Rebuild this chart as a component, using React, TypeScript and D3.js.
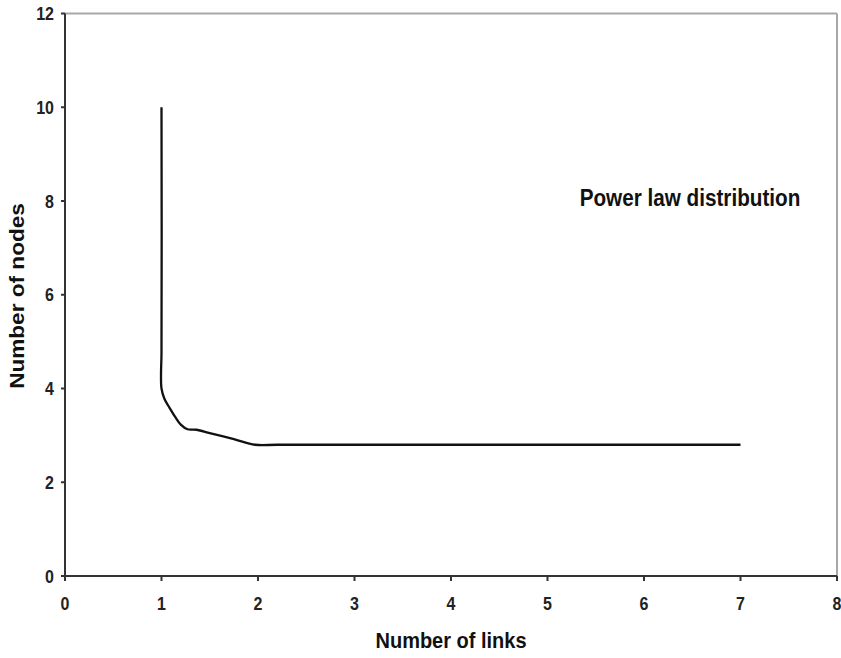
import React from "react";
import * as d3 from "d3";

const xTicks = [0, 1, 2, 3, 4, 5, 6, 7, 8];
const yTicks = [0, 2, 4, 6, 8, 10, 12];
const linksValues = [1.0, 1.0, 0.995, 1.0, 1.03, 1.08, 1.14, 1.2, 1.27, 1.36, 1.5, 1.75, 1.97, 2.2, 3, 4, 5, 6, 7];
const nodesValues = [10, 4.75, 4.3, 4.0, 3.78, 3.6, 3.4, 3.23, 3.13, 3.12, 3.05, 2.92, 2.8, 2.8, 2.8, 2.8, 2.8, 2.8, 2.8];
const xTitle = "Number of links";
const yTitle = "Number of nodes";
const annotation = "Power law distribution";

const W = 841;
const H = 658;
const M = { left: 65, right: 837, top: 13.5, bottom: 576 };
const FONT = "'Liberation Sans', Arial, sans-serif";
const SY = 1.13;

export default function App() {
  const x = d3.scaleLinear().domain([0, 8]).range([M.left, M.right]);
  const y = d3.scaleLinear().domain([0, 12]).range([M.bottom, M.top]);
  const pts: [number, number][] = linksValues.map((v, i) => [v, nodesValues[i]]);
  const line = d3
    .line<[number, number]>()
    .x((d) => x(d[0]))
    .y((d) => y(d[1]))
    .curve(d3.curveCatmullRom.alpha(0.5));

  return (
    <svg
      width={W}
      height={H}
      style={{ position: "absolute", left: 0, top: 0, background: "#fff" }}
    >
      <line x1={M.left} x2={M.right} y1={M.top} y2={M.top} stroke="#a8a8a8" strokeWidth={2} />
      <line x1={M.right} x2={M.right} y1={M.top} y2={M.bottom} stroke="#a8a8a8" strokeWidth={2} />
      <line x1={M.left} x2={M.left} y1={M.top} y2={M.bottom} stroke="#333" strokeWidth={2} />
      <line x1={M.left} x2={M.right} y1={M.bottom} y2={M.bottom} stroke="#333" strokeWidth={2} />
      {yTicks.map((t) => (
        <g key={"y" + t}>
          <line x1={M.left - 4} x2={M.left} y1={y(t)} y2={y(t)} stroke="#333" strokeWidth={2} />
          <text
            transform={`translate(${M.left - 11},${y(t) + 6.5}) scale(1,${SY})`}
            textAnchor="end"
            fontFamily={FONT}
            fontWeight="bold"
            fontSize={16}
            fill="#222"
          >
            {t}
          </text>
        </g>
      ))}
      {xTicks.map((t) => (
        <g key={"x" + t}>
          <line x1={x(t)} x2={x(t)} y1={M.bottom} y2={M.bottom + 5} stroke="#333" strokeWidth={2} />
          <text
            transform={`translate(${x(t)},${610}) scale(1,${SY})`}
            textAnchor="middle"
            fontFamily={FONT}
            fontWeight="bold"
            fontSize={16}
            fill="#222"
          >
            {t}
          </text>
        </g>
      ))}
      <path d={line(pts) || ""} fill="none" stroke="#111" strokeWidth={2.3} strokeLinejoin="round" />
      <text
        transform={`translate(${451},${648}) scale(1,${SY})`}
        textAnchor="middle"
        fontFamily={FONT}
        fontWeight="bold"
        fontSize={20}
        fill="#111"
      >
        {xTitle}
      </text>
      <text
        transform={`translate(${24},${296}) rotate(-90) scale(${SY},1)`}
        textAnchor="middle"
        fontFamily={FONT}
        fontWeight="bold"
        fontSize={20}
        fill="#111"
      >
        {yTitle}
      </text>
      <text
        transform={`translate(${690},${206}) scale(1,${SY})`}
        textAnchor="middle"
        fontFamily={FONT}
        fontWeight="bold"
        fontSize={20.7}
        fill="#111"
      >
        {annotation}
      </text>
    </svg>
  );
}
